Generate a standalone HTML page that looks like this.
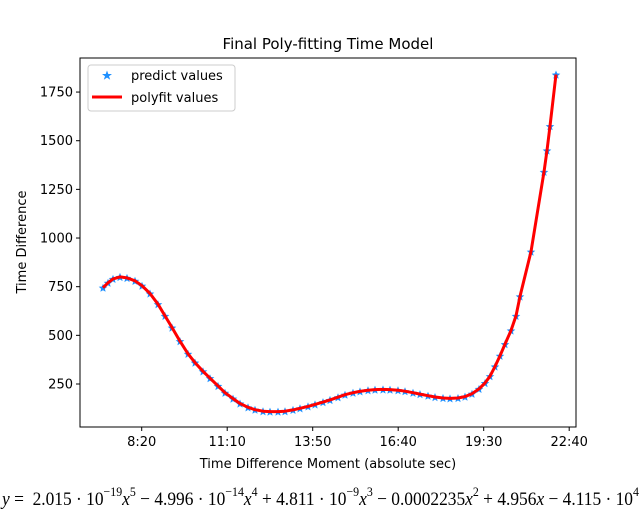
<!DOCTYPE html>
<html><head><meta charset="utf-8"><style>
body{margin:0;background:#fff;width:640px;height:530px;overflow:hidden;position:relative;font-family:"DejaVu Sans","Liberation Sans",sans-serif}
#eq{position:absolute;left:2px;top:484px;white-space:nowrap;font-family:"Liberation Serif","DejaVu Serif",serif;font-size:19px;color:#000;transform:scaleX(0.915);transform-origin:0 0}
#eq i{font-style:italic}
#eq sup{font-size:13px;vertical-align:9px}
</style></head><body>
<svg id="chart" width="640" height="480" style="position:absolute;left:0;top:0" xmlns="http://www.w3.org/2000/svg">
<text x="328" y="49" text-anchor="middle" font-size="15">Final Poly-fitting Time Model</text>
<rect x="80" y="58" width="496" height="369" fill="none" stroke="#000" stroke-width="1"/>
<g id="xticks"></g>
<g id="yticks"></g>
<g id="marks"></g>
<text x="328" y="468" text-anchor="middle" font-size="13">Time Difference Moment (absolute sec)</text>
<text transform="translate(26,242) rotate(-90)" text-anchor="middle" font-size="13">Time Difference</text>
<g>
<rect x="88" y="65" width="147" height="46" fill="#fff" fill-opacity="0.8" stroke="#ccc" rx="3"/>
<polygon points="107,70.5 108.3,74 112,74 109,76.2 110.2,79.8 107,77.6 103.8,79.8 105,76.2 102,74 105.7,74" fill="#1e90ff"/>
<text x="131" y="80" font-size="13">predict values</text>
<line x1="92" y1="97" x2="122" y2="97" stroke="red" stroke-width="3"/>
<text x="131" y="102" font-size="13">polyfit values</text>
</g>
</svg>
<div id="eq"><i>y</i> = &nbsp;2.015 · 10<sup>−19</sup><i>x</i><sup>5</sup> − 4.996 · 10<sup>−14</sup><i>x</i><sup>4</sup> + 4.811 · 10<sup>−9</sup><i>x</i><sup>3</sup> − 0.0002235<i>x</i><sup>2</sup> + 4.956<i>x</i> − 4.115 · 10<sup>4</sup></div>
<script>
const timeSec=[25383,25980,26576,27411,28246,29201,30036,30990,31945,32780,33615,34569,35524,36359,37313,38148,39103,39938,40892,41727,42682,43517,44471,45306,46261,47096,48050,48885,49840,50675,51629,52464,53419,54254,55208,56043,56998,57833,58787,59622,60577,61412,62366,63201,64156,64991,65945,66780,67735,68570,69405,70240,70956,71552,72149,72745,73342,74057,74654,75131,76443,77994,78352,78710,79426];
const timeDiff=[745,770,790,800,795,780,755,715,660,600,540,470,405,360,315,280,240,205,175,150,130,118,110,108,108,110,117,125,135,145,157,168,182,195,205,212,218,221,222,221,218,213,205,198,190,183,178,176,178,185,200,225,255,290,340,395,455,525,600,700,930,1340,1450,1575,1840];
const xTickVals=[30000,40200,50400,60600,70800,81000];
const xTickLabels=["8:20","11:10","13:50","16:40","19:30","22:40"];
const yTickVals=[250,500,750,1000,1250,1500,1750];
const X0=22639,X1=81812,Y0=29,Y1=1925;
const sx=v=>80+(v-X0)/(X1-X0)*496;
const sy=v=>427-(v-Y0)/(Y1-Y0)*369;
const NS="http://www.w3.org/2000/svg";
function mk(t,a,p){const e=document.createElementNS(NS,t);for(const k in a)e.setAttribute(k,a[k]);p.appendChild(e);return e;}
const xg=document.getElementById('xticks'),yg=document.getElementById('yticks'),mg=document.getElementById('marks');
xTickVals.forEach((v,i)=>{const x=sx(v);
const l=mk('line',{x1:x,x2:x,y1:427,y2:431,stroke:'#000'},xg);


const t=mk('text',{x:x,y:446,'text-anchor':'middle','font-size':13},xg);t.textContent=xTickLabels[i];

});
yTickVals.forEach(v=>{const y=sy(v);
const l=mk('line',{x1:76,x2:80,y1:y,y2:y,stroke:'#000'},yg);


const t=mk('text',{x:73,y:y+4.5,'text-anchor':'end','font-size':13},yg);t.textContent=v;

});
function star(cx,cy,r){let p=[];for(let i=0;i<10;i++){const a=-Math.PI/2+i*Math.PI/5,rr=i%2?r*0.45:r;p.push((cx+rr*Math.cos(a)).toFixed(1)+','+(cy+rr*Math.sin(a)).toFixed(1));}return p.join(' ');}
timeSec.forEach((s,i)=>{
const p=mk('polygon',{points:star(sx(s),sy(timeDiff[i])+0.5,4.5),fill:'#1e90ff'},mg);

});
const d=timeSec.map((s,i)=>(i?'L':'M')+sx(s).toFixed(1)+','+sy(timeDiff[i]).toFixed(1)).join(' ');
const pl=mk('path',{d:d,fill:'none',stroke:'red','stroke-width':3,'stroke-linejoin':'round'},mg);


</script>
</body></html>
